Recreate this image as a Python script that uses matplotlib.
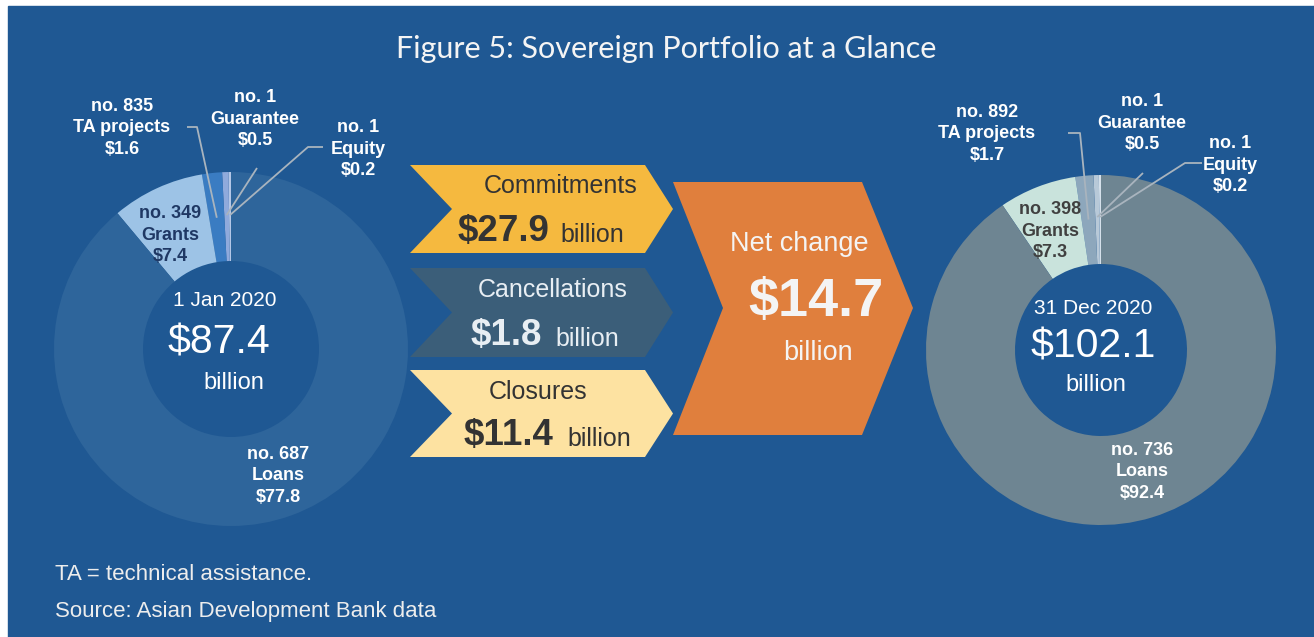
import numpy as np
import matplotlib.pyplot as plt
from matplotlib.patches import Polygon, Rectangle

W, H = 1314, 637

# portfolio composition ($ billion) and number of operations
categories = ['Equity', 'Guarantee', 'TA projects', 'Grants', 'Loans']
counts_jan = [1, 1, 835, 349, 687]
values_jan = [0.2, 0.5, 1.6, 7.4, 77.8]
counts_dec = [1, 1, 892, 398, 736]
values_dec = [0.2, 0.5, 1.7, 7.3, 92.4]
dates = ['1 Jan 2020', '31 Dec 2020']
totals = [87.4, 102.1]

# flows during 2020 ($ billion)
flow_names = ['Commitments', 'Cancellations', 'Closures']
flow_values = [27.9, 1.8, 11.4]
net_change = 14.7

BG = '#1F5893'
FONT = 'Liberation Sans'
colors_jan = ['#B4C7E7', '#8FAADC', '#3A7CC2', '#9DC3E6', '#2E659B']
colors_dec = ['#D5E0EA', '#B8C9D8', '#8DA7BC', '#C9E3DC', '#6E8592']
label_colors_jan = ['white', 'white', 'white', '#1F3864', 'white']
label_colors_dec = ['white', 'white', 'white', '#404040', 'white']
LEADER = '#A9B4BE'


def Y(y):
    # convert from top-down pixel rows to axis coordinates
    return H - y


def txt(ax, x, y, s, size, color='white', bold=False, ha='center', va='center', family=FONT, ls=1.2):
    ax.text(x, Y(y), s, fontsize=size, color=color, ha=ha, va=va,
            fontweight='bold' if bold else 'normal', family=family, linespacing=ls)


def donut(ax, vals, cols, cx, cy, r_out, r_in):
    wedges, _ = ax.pie(vals, colors=cols, startangle=90, counterclock=True,
                       center=(cx, Y(cy)), radius=r_out,
                       wedgeprops=dict(width=r_out - r_in, linewidth=0))
    return wedges


def leader(ax, wedge, cx, cy, r, pts):
    ang = np.deg2rad((wedge.theta1 + wedge.theta2) / 2)
    xs = [p[0] for p in pts] + [cx + r * np.cos(ang)]
    ys = [Y(p[1]) for p in pts] + [Y(cy) + r * np.sin(ang)]
    ax.plot(xs, ys, color=LEADER, lw=1.3, solid_capstyle='butt')


fig = plt.figure(figsize=(W / 100, H / 100), dpi=100, facecolor='white')
ax = fig.add_axes([0, 0, 1, 1])
ax.add_patch(Rectangle((8, 0), W - 8, H - 6, color=BG, zorder=0))

# title
txt(ax, 666, 49, 'Figure 5: Sovereign Portfolio at a Glance', 22, color='#F4F4F4', family='Lato')

# ---- left donut (1 Jan 2020)
cxL, cyL = 231, 349
wL = donut(ax, values_jan, colors_jan, cxL, cyL, 177, 88)
lab_L = [(358, 149), (255, 119), (122, 128), (170, 235), (278, 476)]
for i, (x, y) in enumerate(lab_L):
    txt(ax, x, y, f'no. {counts_jan[i]}\n{categories[i]}\n${values_jan[i]}', 13,
        color=label_colors_jan[i], bold=True, ls=1.38)
leader(ax, wL[2], cxL, cyL, 132, [(187, 127), (197, 127)])
leader(ax, wL[1], cxL, cyL, 134, [(257, 168)])
leader(ax, wL[0], cxL, cyL, 134, [(323, 147), (308, 147)])
txt(ax, 225, 300, dates[0], 15)
txt(ax, 219, 343, f'${totals[0]}', 29.5)
txt(ax, 234, 383, 'billion', 17)

# ---- right donut (31 Dec 2020)
cxR, cyR = 1101, 350
wR = donut(ax, values_dec, colors_dec, cxR, cyR, 175, 86)
lab_R = [(1230, 165), (1142, 123), (987, 134), (1050, 231), (1142, 472)]
for i, (x, y) in enumerate(lab_R):
    txt(ax, x, y, f'no. {counts_dec[i]}\n{categories[i]}\n${values_dec[i]}', 13,
        color=label_colors_dec[i], bold=True, ls=1.38)
leader(ax, wR[2], cxR, cyR, 131, [(1068, 133), (1080, 133)])
leader(ax, wR[1], cxR, cyR, 133, [(1143, 173)])
leader(ax, wR[0], cxR, cyR, 133, [(1202, 163), (1185, 163)])
txt(ax, 1093, 308, dates[1], 15)
txt(ax, 1093, 347, f'${totals[1]}', 29.5)
txt(ax, 1096, 385, 'billion', 17)

# ---- flow chevrons
chev_boxes = [(165, 253), (268, 357), (370, 457)]
chev_colors = ['#F5B93F', '#3B5E79', '#FDE2A1']
chev_text = ['#333333', '#E8EEF3', '#333333']
name_xy = [(561, 186), (553, 290), (538, 392)]
num_x = [(503, 592), (506, 587), (508, 599)]
for k, (top, bot) in enumerate(chev_boxes):
    mid = (top + bot) / 2
    pts = [(410, top), (645, top), (673, mid), (645, bot), (410, bot), (452, mid)]
    ax.add_patch(Polygon([(x, Y(y)) for x, y in pts], closed=True,
                         facecolor=chev_colors[k], edgecolor='none', zorder=1))
    txt(ax, name_xy[k][0], name_xy[k][1], flow_names[k], 18, color=chev_text[k])
    txt(ax, num_x[k][0], bot - 12, f'${flow_values[k]}', 26.5, color=chev_text[k],
        bold=True, va='baseline')
    txt(ax, num_x[k][1], bot - 11, 'billion', 18, color=chev_text[k], va='baseline')

# net change chevron
net_pts = [(673, 182), (862, 182), (913, 308), (862, 435), (673, 435), (723, 308)]
ax.add_patch(Polygon([(x, Y(y)) for x, y in net_pts], closed=True,
                     facecolor='#E07F3D', edgecolor='none', zorder=1))
txt(ax, 799, 244, 'Net change', 19.5, color='#F4F4F4')
txt(ax, 816, 302, f'${net_change}', 39, color='#F4F4F4', bold=True)
txt(ax, 818, 353, 'billion', 19.5, color='#F4F4F4')

# footnotes
txt(ax, 55, 574, 'TA = technical assistance.', 16, color='#EDEDED', ha='left')
txt(ax, 55, 611, 'Source: Asian Development Bank data', 16, color='#EDEDED', ha='left')

ax.set_xlim(0, W)
ax.set_ylim(0, H)
ax.set_aspect('auto')
ax.axis('off')

fig.savefig('out.png', dpi=100, facecolor='white')
